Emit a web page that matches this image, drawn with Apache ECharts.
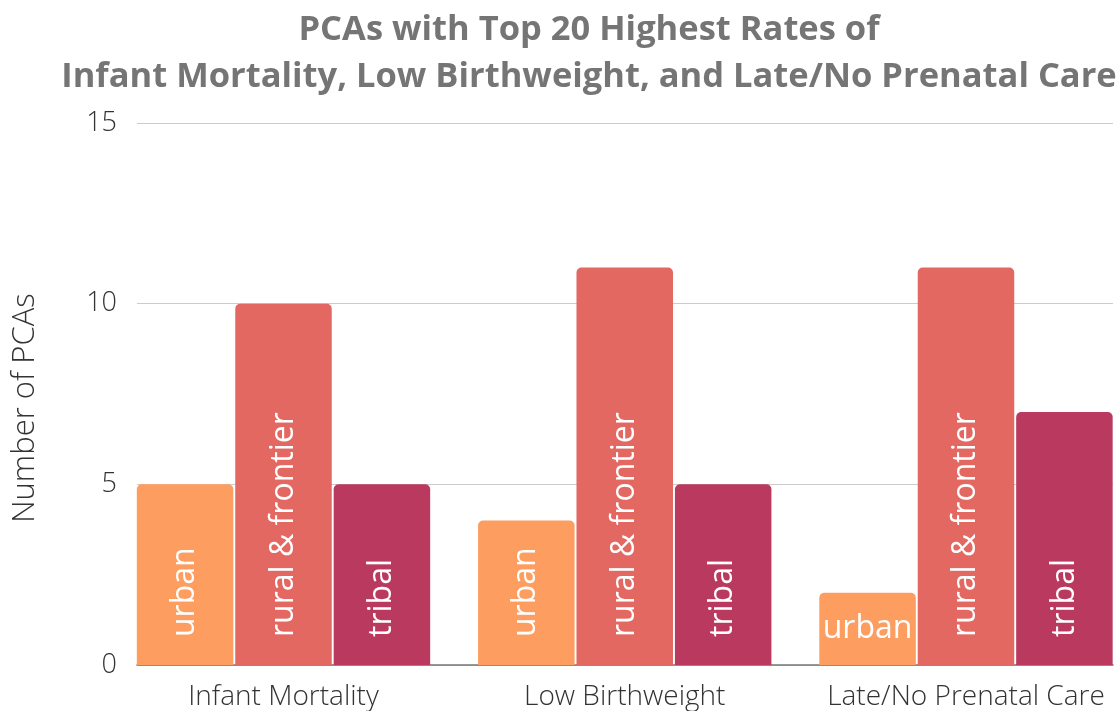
<!DOCTYPE html>
<html>
<head>
<meta charset="utf-8">
<script src="https://cdn.jsdelivr.net/npm/echarts@6/dist/echarts.min.js"></script>
<style>
html,body{margin:0;padding:0;background:#fff;}
#chart{width:1119px;height:711px;}
</style>
</head>
<body>
<div id="chart"></div>
<script>
const titleLines = ['PCAs with Top 20 Highest Rates of', 'Infant Mortality, Low Birthweight, and Late/No Prenatal Care'];
const categories = ['Infant Mortality', 'Low Birthweight', 'Late/No Prenatal Care'];
const seriesNames = ['urban', 'rural & frontier', 'tribal'];
const urbanValues = [5, 4, 2];
const ruralValues = [10, 11, 11];
const tribalValues = [5, 5, 7];
const yAxisName = 'Number of PCAs';
const yMin = 0, yMax = 15, yInterval = 5;

const colors = ['#FD9D5F', '#E26861', '#B9395F'];
const font = '"Open Sans", sans-serif';

// x layout: categories sit at positions 0,1,2 on a value axis whose visible
// range is a little wider on the right than on the left (as in the original)
const xMin = -0.4293, xMax = 2.4308;

const chart = echarts.init(document.getElementById('chart'), null, {renderer: 'canvas'});

const rotatedLabel = {
  show: true,
  formatter: '{a}',
  position: 'insideBottom',
  rotate: 90,
  align: 'left',
  verticalAlign: 'middle',
  distance: 28,
  color: '#ffffff',
  fontFamily: font,
  fontSize: 32
};
const flatLabel = {
  rotate: 0,
  position: 'inside',
  align: 'center',
  verticalAlign: 'middle'
};

function makeData(values, idx) {
  return values.map(function (v, i) {
    // short bar: label shown horizontally (style only)
    if (idx === 0 && i === 2) return {value: [i, v], label: flatLabel};
    return [i, v];
  });
}

const allValues = [urbanValues, ruralValues, tribalValues];

const option = {
  animation: false,
  backgroundColor: '#ffffff',
  title: {
    text: titleLines.join('\n'),
    left: 584,
    top: 2,
    textAlign: 'center',
    textStyle: {
      fontFamily: font,
      fontWeight: 'bold',
      fontSize: 34.5,
      color: '#757575',
      lineHeight: 47
    }
  },
  graphic: [{
    type: 'text',
    x: 25,
    y: 408,
    rotation: Math.PI / 2,
    style: {
      text: yAxisName,
      fontFamily: font,
      fontSize: 31,
      fontWeight: 300,
      fill: '#333333',
      align: 'center',
      verticalAlign: 'middle'
    }
  }],
  grid: {left: 137, right: 6, top: 123, bottom: 44},
  xAxis: {
    type: 'value', min: xMin, max: xMax,
    axisLine: {show: true, onZero: false, lineStyle: {color: '#777777', width: 1.5}},
    axisTick: {show: false},
    splitLine: {show: false},
    axisLabel: {
      customValues: categories.map(function (c, i) { return i; }),
      formatter: function (v) { return categories[Math.round(v)]; },
      fontFamily: font, fontSize: 28, fontWeight: 300, color: '#333333', margin: 18
    }
  },
  yAxis: {
    type: 'value', min: yMin, max: yMax, interval: yInterval,
    axisLine: {show: false}, axisTick: {show: false},
    axisLabel: {fontFamily: font, fontSize: 27, fontWeight: 300, color: '#333333', margin: 20},
    splitLine: {lineStyle: {color: '#cccccc', width: 1}}
  },
  series: seriesNames.map(function (name, idx) {
    return {
      name: name,
      type: 'bar',
      data: makeData(allValues[idx], idx),
      barWidth: 96.5,
      barGap: '2%',
      itemStyle: {color: colors[idx], borderRadius: [5, 5, 0, 0]},
      label: rotatedLabel
    };
  })
};

chart.setOption(option);
</script>
</body>
</html>
